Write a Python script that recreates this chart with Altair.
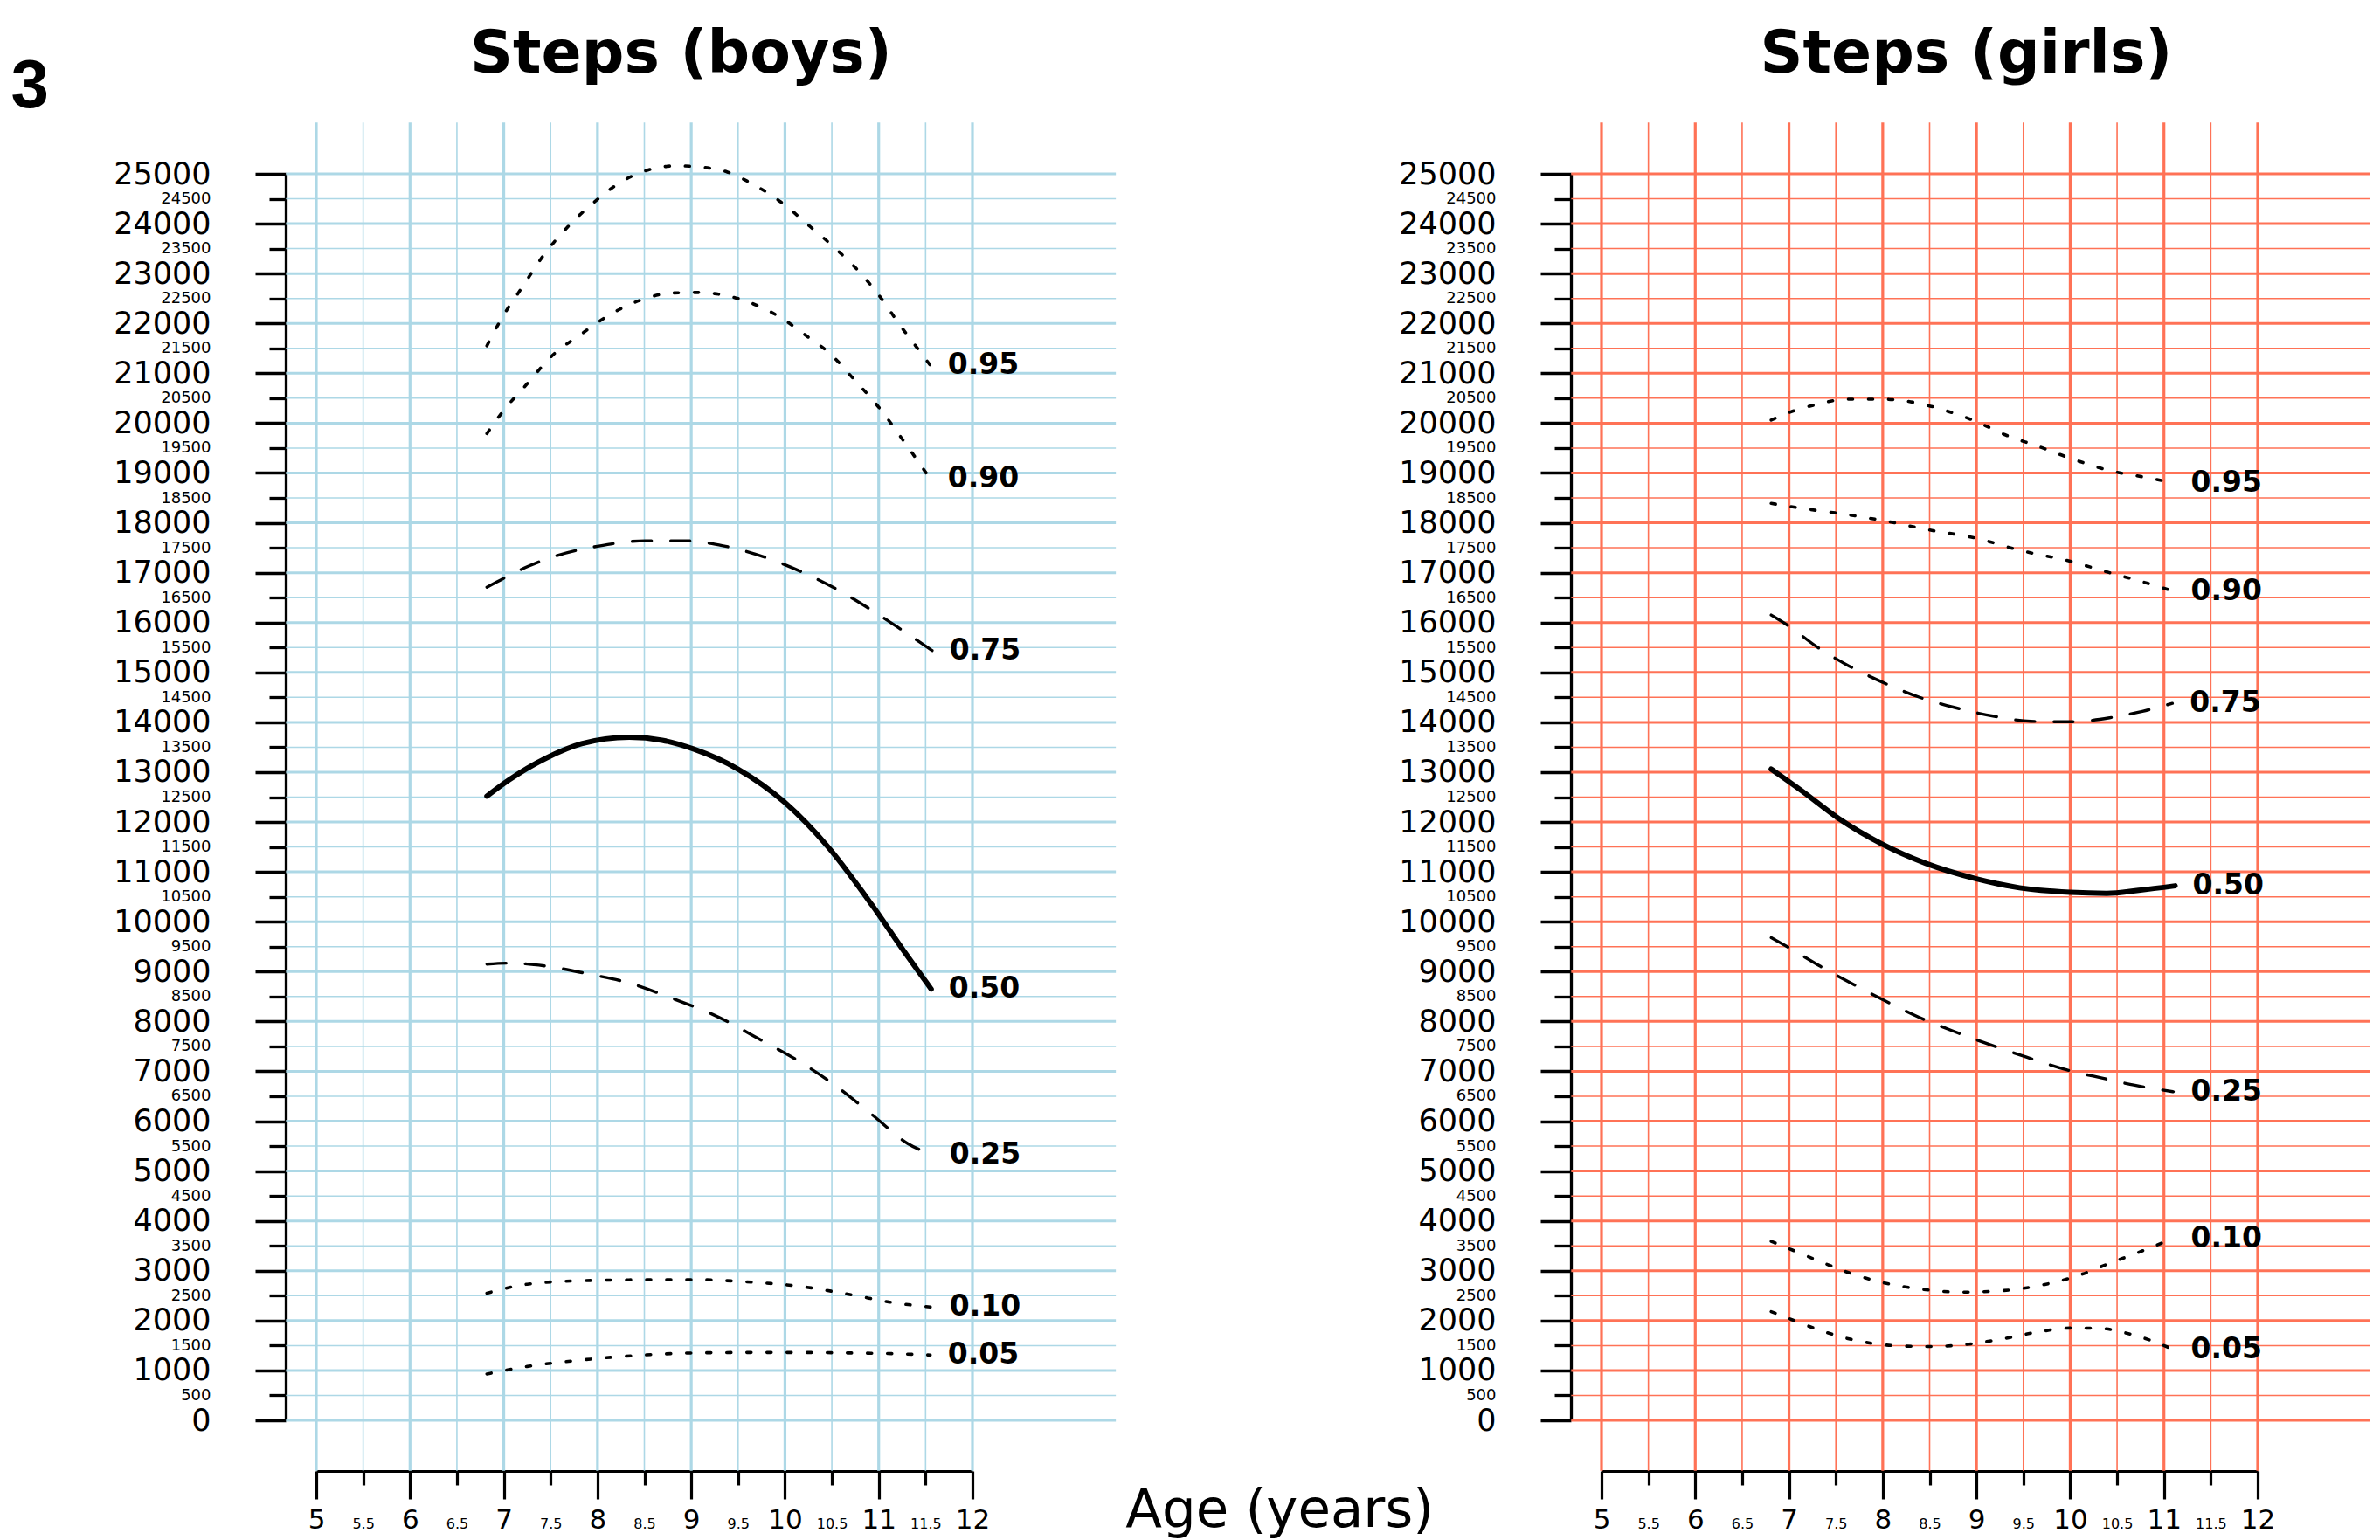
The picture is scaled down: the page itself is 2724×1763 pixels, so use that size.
import altair as alt
import pandas as pd

# ---------------- data ----------------
X_TICKS = [5, 5.5, 6, 6.5, 7, 7.5, 8, 8.5, 9, 9.5, 10, 10.5, 11, 11.5, 12]
Y_TICKS = [0, 500, 1000, 1500, 2000, 2500, 3000, 3500, 4000, 4500, 5000, 5500,
           6000, 6500, 7000, 7500, 8000, 8500, 9000, 9500, 10000, 10500, 11000,
           11500, 12000, 12500, 13000, 13500, 14000, 14500, 15000, 15500, 16000,
           16500, 17000, 17500, 18000, 18500, 19000, 19500, 20000, 20500, 21000,
           21500, 22000, 22500, 23000, 23500, 24000, 24500, 25000]
PERCENTILES = ["0.95", "0.90", "0.75", "0.50", "0.25", "0.10", "0.05"]

# Boys
BOYS_P95_AGE = [6.82, 6.98, 7.18, 7.45, 7.68, 7.95, 8.30, 8.61, 8.84, 9.07, 9.38, 9.65, 9.96, 10.27, 10.54, 10.81, 11.00, 11.24, 11.43, 11.55]
BOYS_P95 = [21550, 22110, 22680, 23430, 23930, 24410, 24890, 25110, 25160, 25140, 25040, 24800, 24430, 23940, 23500, 23000, 22570, 21930, 21460, 21160]
BOYS_P90_AGE = [6.82, 6.98, 7.25, 7.52, 7.83, 8.10, 8.45, 8.80, 9.07, 9.34, 9.61, 9.96, 10.23, 10.50, 10.73, 11.00, 11.24, 11.55]
BOYS_P90 = [19790, 20210, 20790, 21360, 21790, 22140, 22460, 22610, 22620, 22570, 22430, 22110, 21750, 21360, 20890, 20320, 19710, 18880]
BOYS_P75_AGE = [6.82, 7.00, 7.25, 7.56, 8.03, 8.51, 8.92, 9.34, 9.77, 10.15, 10.54, 10.89, 11.24, 11.57]
BOYS_P75 = [16710, 16890, 17120, 17340, 17540, 17640, 17640, 17540, 17320, 17040, 16680, 16290, 15860, 15440]
BOYS_P50_AGE = [6.82, 7.06, 7.45, 7.83, 8.34, 8.69, 9.03, 9.50, 10.00, 10.46, 10.93, 11.28, 11.56]
BOYS_P50 = [12520, 12850, 13280, 13570, 13700, 13640, 13460, 13060, 12390, 11500, 10330, 9380, 8650]
BOYS_P25_AGE = [6.82, 7.06, 7.45, 7.91, 8.34, 8.80, 9.23, 9.77, 10.15, 10.54, 10.93, 11.31, 11.57]
BOYS_P25 = [9150, 9170, 9110, 8950, 8770, 8460, 8140, 7600, 7200, 6710, 6130, 5550, 5330]
BOYS_P10_AGE = [6.82, 7.25, 7.83, 8.61, 9.07, 9.57, 10.15, 10.73, 11.12, 11.57]
BOYS_P10 = [2550, 2730, 2800, 2820, 2820, 2780, 2690, 2510, 2370, 2270]
BOYS_P05_AGE = [6.82, 7.25, 7.83, 8.41, 8.99, 9.57, 10.15, 10.73, 11.20, 11.55]
BOYS_P05 = [930, 1080, 1210, 1300, 1350, 1360, 1360, 1350, 1335, 1310]

# Girls
GIRLS_P95_AGE = [6.81, 7.01, 7.26, 7.64, 7.99, 8.38, 8.69, 9.00, 9.30, 9.65, 10.04, 10.46, 10.81, 11.10]
GIRLS_P95 = [20060, 20220, 20360, 20480, 20480, 20400, 20240, 20030, 19770, 19540, 19270, 19030, 18910, 18800]
GIRLS_P90_AGE = [6.81, 7.14, 7.53, 7.99, 8.49, 9.00, 9.46, 10.00, 10.42, 10.73, 11.10]
GIRLS_P90 = [18390, 18290, 18190, 18050, 17860, 17690, 17450, 17230, 17000, 16840, 16630]
GIRLS_P75_AGE = [6.81, 6.99, 7.30, 7.61, 7.99, 8.38, 8.76, 9.19, 9.58, 10.00, 10.42, 10.77, 11.09]
GIRLS_P75 = [16150, 15940, 15510, 15160, 14810, 14510, 14300, 14120, 14020, 14010, 14090, 14220, 14380]
GIRLS_P50_AGE = [6.81, 7.14, 7.53, 7.99, 8.46, 9.00, 9.46, 10.00, 10.39, 10.73, 11.12]
GIRLS_P50 = [13060, 12620, 12070, 11560, 11170, 10860, 10680, 10590, 10570, 10630, 10720]
GIRLS_P25_AGE = [6.81, 6.99, 7.34, 7.68, 8.03, 8.38, 8.76, 9.15, 9.54, 9.96, 10.35, 10.69, 11.10]
GIRLS_P25 = [9680, 9490, 9100, 8750, 8410, 8090, 7800, 7530, 7280, 7030, 6860, 6720, 6590]
GIRLS_P10_AGE = [6.81, 7.03, 7.30, 7.64, 8.03, 8.46, 8.84, 9.27, 9.69, 10.08, 10.42, 10.73, 11.10]
GIRLS_P10 = [3590, 3420, 3210, 2960, 2750, 2620, 2570, 2600, 2710, 2900, 3150, 3370, 3650]
GIRLS_P05_AGE = [6.81, 7.03, 7.34, 7.72, 8.11, 8.49, 8.88, 9.27, 9.65, 10.00, 10.31, 10.62, 10.85, 11.10]
GIRLS_P05 = [2180, 2020, 1800, 1600, 1500, 1480, 1520, 1630, 1770, 1850, 1845, 1740, 1610, 1420]

BOYS_AGES = [BOYS_P95_AGE, BOYS_P90_AGE, BOYS_P75_AGE, BOYS_P50_AGE, BOYS_P25_AGE, BOYS_P10_AGE, BOYS_P05_AGE]
BOYS_STEPS = [BOYS_P95, BOYS_P90, BOYS_P75, BOYS_P50, BOYS_P25, BOYS_P10, BOYS_P05]
GIRLS_AGES = [GIRLS_P95_AGE, GIRLS_P90_AGE, GIRLS_P75_AGE, GIRLS_P50_AGE, GIRLS_P25_AGE, GIRLS_P10_AGE, GIRLS_P05_AGE]
GIRLS_STEPS = [GIRLS_P95, GIRLS_P90, GIRLS_P75, GIRLS_P50, GIRLS_P25, GIRLS_P10, GIRLS_P05]

DOTTED = ["0.95", "0.90", "0.10", "0.05"]
DASHED = ["0.75", "0.25"]
SOLID = ["0.50"]

# ---------------- styling ----------------
FONT = "DejaVu Sans"
BOYS_GRID = "#ADD8E6"
GIRLS_GRID = "#FF7256"
W, H = 751, 1427

XS = alt.Scale(domain=[5, 12], nice=False, zero=False)
YS = alt.Scale(domain=[0, 25000], nice=False, zero=False)

X_MAJOR = "datum.value % 1 === 0"
Y_MAJOR = "datum.value % 1000 === 0"

AX = alt.Axis(
    values=X_TICKS, offset=58, title=None, grid=False,
    domainColor="black", domainWidth=3.2, tickColor="black", tickWidth=3.2,
    tickSize={"condition": {"test": X_MAJOR, "value": 32}, "value": 16},
    labelFontSize={"condition": {"test": X_MAJOR, "value": 31}, "value": 16},
    labelPadding={"condition": {"test": X_MAJOR, "value": 33}, "value": 49},
    labelBaseline="alphabetic", labelFont=FONT, labelColor="black",
    labelExpr="'' + datum.value", labelOverlap=False, labelFlush=False, labelBound=False,
)
AY = alt.Axis(
    values=Y_TICKS, offset=35, title=None, grid=False,
    domainColor="black", domainWidth=3.3, tickColor="black", tickWidth=3.3,
    tickSize={"condition": {"test": Y_MAJOR, "value": 35}, "value": 19},
    labelFontSize={"condition": {"test": Y_MAJOR, "value": 35}, "value": 18},
    labelPadding={"condition": {"test": Y_MAJOR, "value": 51}, "value": 67},
    labelFont=FONT, labelColor="black", labelAlign="right", labelBaseline="middle",
    labelExpr="'' + datum.value", labelOverlap=False, labelFlush=False, labelBound=False,
)


def xf(field):
    return alt.X(field, type="quantitative", scale=XS, axis=AX)


def yf(field):
    return alt.Y(field, type="quantitative", scale=YS, axis=AY)


def curves_frame(ages_list, steps_list):
    rows = []
    for pct, ages, steps in zip(PERCENTILES, ages_list, steps_list):
        for a, s in zip(ages, steps):
            rows.append({"pct": pct, "age": a, "steps": s})
    return pd.DataFrame(rows)


def ends_frame(ages_list, steps_list):
    return pd.DataFrame({
        "pct": PERCENTILES,
        "age": [a[-1] for a in ages_list],
        "steps": [s[-1] for s in steps_list],
    })


def panel(ages_list, steps_list, grid_color, title, grid_right, extra=None):
    curves = curves_frame(ages_list, steps_list)
    ends = ends_frame(ages_list, steps_list)
    vg = pd.DataFrame({"age": X_TICKS})
    hg = pd.DataFrame({"steps": Y_TICKS})

    layers = []
    # vertical grid (half years thin, years thick)
    for test, width in [("datum.age % 1 !== 0", 1.6), ("datum.age % 1 === 0", 3.2)]:
        layers.append(
            alt.Chart(vg).transform_filter(test).mark_rule(color=grid_color, strokeWidth=width).encode(
                x=xf("age"),
                y=alt.YDatum(26030, type="quantitative", scale=YS, axis=AY),
                y2=alt.Y2Datum(-1011),
            )
        )
    # horizontal grid (500 thin, 1000 thick)
    for test, width in [("datum.steps % 1000 !== 0", 1.5), ("datum.steps % 1000 === 0", 3.0)]:
        layers.append(
            alt.Chart(hg).transform_filter(test).mark_rule(color=grid_color, strokeWidth=width).encode(
                y=yf("steps"),
                x=alt.XDatum(4.677, type="quantitative", scale=XS, axis=AX),
                x2=alt.X2Datum(grid_right),
            )
        )
    # percentile curves
    styles = [
        (DOTTED, dict(strokeWidth=3.6, strokeDash=[5, 18], strokeCap="round")),
        (DASHED, dict(strokeWidth=3.4, strokeDash=[22, 22], strokeCap="round")),
        (SOLID, dict(strokeWidth=6, strokeCap="round")),
    ]
    for group, kw in styles:
        layers.append(
            alt.Chart(curves).transform_filter(alt.FieldOneOfPredicate(field="pct", oneOf=group))
            .mark_line(color="black", interpolate="monotone", **kw)
            .encode(x=xf("age"), y=yf("steps"), detail="pct:N")
        )
    # curve labels
    layers.append(
        alt.Chart(ends).mark_text(align="left", baseline="middle", dx=20, font=FONT,
                                  fontWeight="bold", fontSize=33, color="black")
        .encode(x=xf("age"), y=yf("steps"), text="pct:N")
    )
    # panel title
    layers.append(
        alt.Chart(pd.DataFrame({"t": [title]})).mark_text(
            align="center", baseline="alphabetic", font=FONT, fontWeight="bold",
            fontSize=68, color="black")
        .encode(x=alt.value(417.5), y=alt.value(-116), text="t:N")
    )
    if extra:
        layers.extend(extra)
    return alt.layer(*layers).properties(width=W, height=H)


panel_tag = alt.Chart(pd.DataFrame({"t": ["3"]})).mark_text(
    align="left", baseline="alphabetic", font="Liberation Sans", fontWeight="bold",
    fontSize=78, color="black").encode(x=alt.value(-349.4), y=alt.value(-75.7), text="t:N")
x_title = alt.Chart(pd.DataFrame({"t": ["Age (years)"]})).mark_text(
    align="center", baseline="alphabetic", font=FONT, fontSize=61, color="black"
).encode(x=alt.value(1102.6), y=alt.value(1549.3), text="t:N")

boys = panel(BOYS_AGES, BOYS_STEPS, BOYS_GRID, "Steps (boys)", 13.53, [panel_tag, x_title])
girls = panel(GIRLS_AGES, GIRLS_STEPS, GIRLS_GRID, "Steps (girls)", 13.2)

chart = alt.HConcatChart(
    hconcat=[boys, girls], spacing=720, bounds="flush",
    padding={"left": 4, "top": 20, "right": 0, "bottom": 0},
).configure_view(stroke=None).configure(background="white")

chart.save("out.html", embed_options={"renderer": "svg", "actions": False})
